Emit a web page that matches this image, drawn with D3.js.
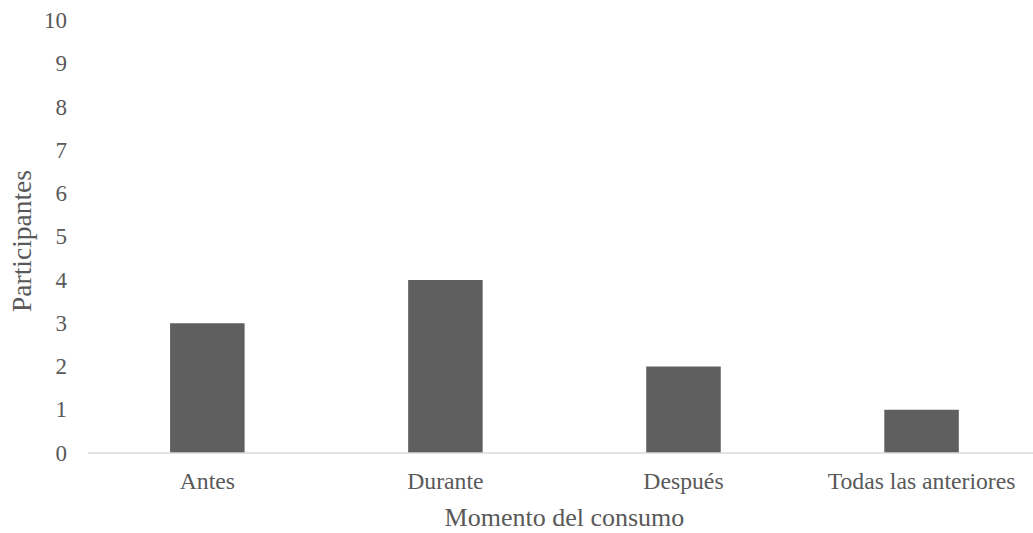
<!DOCTYPE html>
<html>
<head>
<meta charset="utf-8">
<script src="https://cdn.jsdelivr.net/npm/d3@7/dist/d3.min.js"></script>
<style>
  html, body { margin: 0; padding: 0; background: #fff; overflow: hidden; }
  svg { display: block; }
</style>
</head>
<body>
<svg id="chart" width="1033" height="533"></svg>
<script>
// Participants by moment of consumption
const categories = ["Antes", "Durante", "Después", "Todas las anteriores"];
const values = [3, 4, 2, 1];
const yTicks = [0, 1, 2, 3, 4, 5, 6, 7, 8, 9, 10];
const xTitle = "Momento del consumo";
const yTitle = "Participantes";

const fontStack = "'Liberation Serif', 'DejaVu Serif', 'Times New Roman', Times, serif";
const textColor = "#595959";

const svg = d3.select("#chart")
  .attr("font-family", fontStack);
const plotLeft = 88.3, plotRight = 1040.6, plotTop = 20.5, plotBottom = 453;

const x = d3.scaleBand()
  .domain(categories)
  .range([plotLeft, plotRight])
  .paddingInner(0.687)
  .paddingOuter(0.3435);

const y = d3.scaleLinear().domain([0, 10]).range([plotBottom, plotTop]);

// bars
svg.append("g").selectAll("rect")
  .data(values)
  .join("rect")
  .attr("x", (d, i) => x(categories[i]))
  .attr("y", d => y(d))
  .attr("width", x.bandwidth())
  .attr("height", d => y(0) - y(d))
  .attr("fill", "#5f5f5f");

// baseline axis
svg.append("line")
  .attr("x1", plotLeft).attr("x2", plotRight)
  .attr("y1", y(0)).attr("y2", y(0))
  .attr("stroke", "#d9d9d9").attr("stroke-width", 1.5);

// y tick labels
svg.append("g").selectAll("text")
  .data(yTicks)
  .join("text")
  .attr("x", 67)
  .attr("y", d => y(d))
  .attr("dy", "0.33em")
  .attr("text-anchor", "end")
  .attr("font-family", fontStack)
  .attr("font-size", 23)
  .attr("fill", textColor)
  .text(d => d);

// category labels
svg.append("g").selectAll("text")
  .data(categories)
  .join("text")
  .attr("x", d => x(d) + x.bandwidth() / 2)
  .attr("y", 489)
  .attr("text-anchor", "middle")
  .attr("font-family", fontStack)
  .attr("font-size", 23.7)
  .attr("fill", textColor)
  .text(d => d);

// axis titles
svg.append("text")
  .attr("x", (plotLeft + plotRight) / 2)
  .attr("y", 526)
  .attr("text-anchor", "middle")
  .attr("font-family", fontStack)
  .attr("font-size", 26)
  .attr("fill", textColor)
  .text(xTitle);

svg.append("text")
  .attr("transform", "translate(31,241) rotate(-90)")
  .attr("text-anchor", "middle")
  .attr("font-family", fontStack)
  .attr("font-size", 27.5)
  .attr("fill", textColor)
  .text(yTitle);
</script>
</body>
</html>
